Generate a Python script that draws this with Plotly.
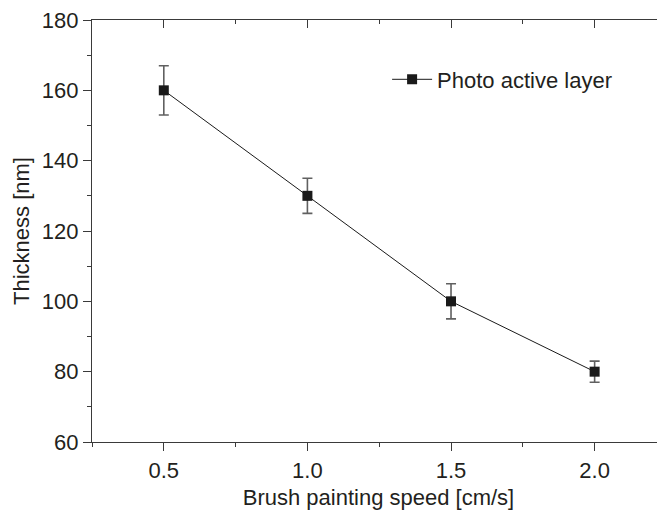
import plotly.graph_objects as go

# ---- data ----
speed = [0.5, 1.0, 1.5, 2.0]                 # Brush painting speed [cm/s]
thickness = [160, 130, 100, 80]              # Thickness [nm]
thickness_err = [7, 5, 5, 3]                 # error bar half-length [nm]
series_name = "Photo active layer"
x_tickvals = [0.5, 1.0, 1.5, 2.0]
x_ticktext = ["0.5", "1.0", "1.5", "2.0"]
y_tickvals = [60, 80, 100, 120, 140, 160, 180]

FONT = "Liberation Sans, Arial, Helvetica, sans-serif"
TXT = "#231f20"
AX = "#3a3a3a"
FS = 22

fig = go.Figure()
fig.add_trace(go.Scatter(
    x=speed, y=thickness, mode="lines+markers", name=series_name,
    line=dict(color="#1a1a1a", width=1),
    marker=dict(symbol="square", size=10, color="#1a1a1a"),
    error_y=dict(type="data", array=thickness_err, visible=True,
                 color="#606060", thickness=1.6, width=5),
    showlegend=True,
))
# invisible trace to anchor the top (mirrored) axis
fig.add_trace(go.Scatter(x=[speed[0]], y=[thickness[0]], xaxis="x2", mode="markers",
                         marker=dict(opacity=0), showlegend=False, hoverinfo="skip"))

xr = [0.25, 2.245]
# page has an 8px body margin, so the figure is 8px smaller than the window
fig.update_layout(
    width=657, height=507,
    margin=dict(l=84, r=0, t=9, b=73),
    paper_bgcolor="white", plot_bgcolor="white",
    font=dict(family=FONT, size=FS, color=TXT),
    showlegend=True,
    legend=dict(x=0.515, y=0.859, xanchor="left", yanchor="middle",
                itemwidth=40,
                bgcolor="rgba(0,0,0,0)", borderwidth=0,
                font=dict(family=FONT, size=FS, color=TXT)),
    xaxis=dict(
        range=xr, showgrid=False, zeroline=False,
        showline=True, linecolor=AX, linewidth=1.3,
        ticks="outside", ticklen=8, tickwidth=1.3, tickcolor=AX,
        tickvals=x_tickvals, ticktext=x_ticktext, ticklabeloverflow="allow",
        minor=dict(ticks="outside", ticklen=4, tickwidth=1.3, tickcolor=AX,
                   tick0=0.25, dtick=0.25),
        title=dict(text="Brush painting speed [cm/s]", font=dict(size=FS, color=TXT), standoff=8),
        tickfont=dict(size=FS, color=TXT),
    ),
    xaxis2=dict(
        range=xr, overlaying="x", side="top", showgrid=False, zeroline=False,
        showline=True, linecolor=AX, linewidth=1.3,
        ticks="inside", ticklen=8, tickwidth=1.3, tickcolor=AX,
        tickvals=x_tickvals, showticklabels=False,
        minor=dict(ticks="inside", ticklen=4, tickwidth=1.3, tickcolor=AX,
                   tick0=0.25, dtick=0.25),
    ),
    yaxis=dict(
        range=[60, 180], showgrid=False, zeroline=False,
        showline=True, linecolor=AX, linewidth=1.3,
        ticks="outside", ticklen=8, tickwidth=1.3, tickcolor=AX,
        tickvals=y_tickvals, ticklabeloverflow="allow",
        minor=dict(ticks="outside", ticklen=4, tickwidth=1.3, tickcolor=AX,
                   tick0=60, dtick=10),
        title=dict(text="Thickness [nm]", font=dict(size=FS, color=TXT), standoff=6),
        tickfont=dict(size=FS, color=TXT),
    ),
)

fig.write_html("out.html")
